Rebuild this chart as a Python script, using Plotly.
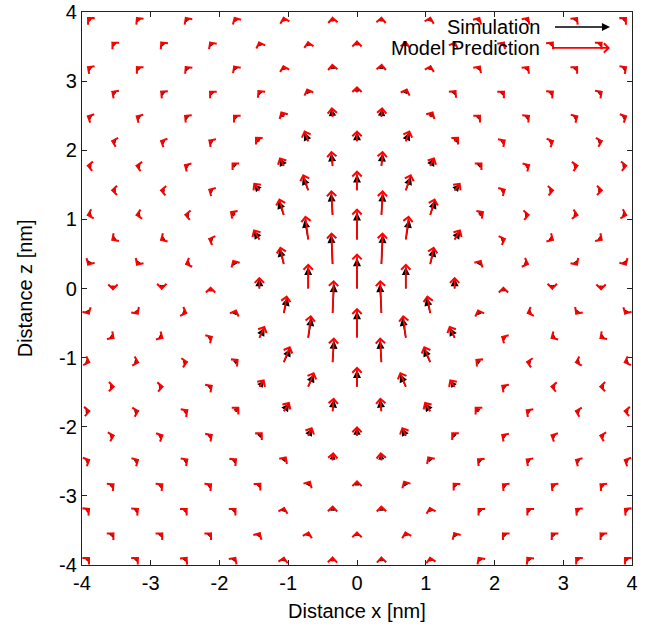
import math
import plotly.graph_objects as go

# lattice (nm)
X_ODD = [-3.905, -3.195, -2.485, -1.775, -1.065, -0.355, 0.355, 1.065, 1.775, 2.485, 3.195, 3.905]
X_EVEN = [-3.55, -2.84, -2.13, -1.42, -0.71, 0.0, 0.71, 1.42, 2.13, 2.84, 3.55]
Z_ROWS = [3.905, 3.55, 3.195, 2.84, 2.485, 2.13, 1.775, 1.42, 1.065, 0.71, 0.355, 0.0,
          -0.355, -0.71, -1.065, -1.42, -1.775, -2.13, -2.485, -2.84, -3.195, -3.55, -3.905]

# Model prediction: direction (deg, 90 = +z) and length (nm) per row, top to bottom
MODEL_ANGLE = [
    [135, 130, 125, 120, 105, 95, 85, 75, 60, 55, 50, 45],
    [135, 130, 125, 110, 100, 90, 80, 70, 55, 50, 45],
    [145, 135, 130, 125, 105, 95, 85, 75, 55, 50, 45, 35],
    [145, 140, 135, 130, 110, 90, 70, 50, 45, 40, 35],
    [155, 150, 140, 135, 120, 95, 85, 60, 45, 40, 30, 25],
    [165, 155, 145, 135, 110, 90, 70, 45, 35, 25, 15],
    [175, 170, 150, 135, 117, 95, 85, 63, 45, 30, 10, 5],
    [180, 175, 150, 128, 108, 90, 72, 52, 30, 5, 0],
    [195, 190, 175, 145, 106, 93, 87, 74, 35, 5, 350, 345],
    [215, 210, 160, 121, 97, 90, 83, 59, 20, 330, 325],
    [240, 235, 200, 120, 102, 92, 88, 78, 60, 340, 305, 300],
    [270, 270, 90, 90, 90, 90, 90, 90, 90, 270, 270],
    [300, 305, 340, 70, 80, 88, 92, 100, 110, 200, 235, 240],
    [325, 330, 30, 65, 83, 90, 97, 115, 150, 210, 215],
    [340, 345, 10, 40, 68, 87, 93, 112, 140, 170, 195, 200],
    [0, 5, 35, 55, 68, 90, 112, 125, 145, 175, 180],
    [5, 15, 35, 45, 58, 85, 95, 122, 135, 145, 165, 175],
    [15, 25, 35, 45, 65, 90, 115, 135, 145, 155, 165],
    [25, 30, 35, 40, 55, 85, 95, 125, 140, 145, 150, 155],
    [40, 40, 40, 45, 60, 90, 120, 135, 140, 140, 140],
    [40, 40, 45, 45, 75, 88, 92, 105, 135, 135, 140, 140],
    [45, 45, 45, 60, 75, 90, 105, 120, 135, 135, 135],
    [45, 45, 50, 55, 80, 88, 92, 100, 125, 130, 135, 135],
]
MODEL_LEN = [
    [0.03, 0.03, 0.03, 0.03, 0.03, 0.03, 0.03, 0.03, 0.03, 0.03, 0.03, 0.03],
    [0.03, 0.03, 0.03, 0.03, 0.03, 0.04, 0.03, 0.03, 0.03, 0.03, 0.03],
    [0.03, 0.03, 0.03, 0.04, 0.04, 0.06, 0.06, 0.04, 0.04, 0.03, 0.03, 0.03],
    [0.03, 0.03, 0.03, 0.04, 0.06, 0.09, 0.06, 0.04, 0.03, 0.03, 0.03],
    [0.03, 0.03, 0.04, 0.04, 0.09, 0.14, 0.14, 0.09, 0.04, 0.04, 0.03, 0.03],
    [0.03, 0.03, 0.04, 0.09, 0.17, 0.16, 0.17, 0.09, 0.04, 0.03, 0.03],
    [0.03, 0.03, 0.04, 0.07, 0.14, 0.22, 0.22, 0.14, 0.07, 0.04, 0.03, 0.03],
    [0.03, 0.03, 0.04, 0.14, 0.25, 0.29, 0.25, 0.14, 0.04, 0.03, 0.03],
    [0.03, 0.03, 0.03, 0.09, 0.25, 0.36, 0.36, 0.25, 0.09, 0.03, 0.03, 0.03],
    [0.03, 0.03, 0.04, 0.17, 0.35, 0.45, 0.35, 0.17, 0.04, 0.03, 0.03],
    [0.03, 0.03, 0.02, 0.07, 0.26, 0.46, 0.46, 0.26, 0.07, 0.02, 0.03, 0.03],
    [0.03, 0.02, 0.03, 0.17, 0.36, 0.51, 0.36, 0.17, 0.03, 0.02, 0.03],
    [0.03, 0.03, 0.02, 0.06, 0.26, 0.48, 0.48, 0.26, 0.06, 0.02, 0.03, 0.03],
    [0.03, 0.03, 0.04, 0.19, 0.33, 0.43, 0.33, 0.19, 0.04, 0.03, 0.03],
    [0.03, 0.03, 0.03, 0.07, 0.25, 0.36, 0.36, 0.25, 0.07, 0.03, 0.03, 0.03],
    [0.03, 0.03, 0.04, 0.13, 0.23, 0.29, 0.23, 0.13, 0.04, 0.03, 0.03],
    [0.03, 0.03, 0.04, 0.09, 0.16, 0.20, 0.20, 0.16, 0.09, 0.04, 0.03, 0.03],
    [0.03, 0.03, 0.04, 0.07, 0.14, 0.14, 0.14, 0.07, 0.04, 0.03, 0.03],
    [0.03, 0.03, 0.04, 0.04, 0.07, 0.12, 0.12, 0.07, 0.04, 0.04, 0.03, 0.03],
    [0.03, 0.03, 0.03, 0.04, 0.07, 0.07, 0.07, 0.04, 0.03, 0.03, 0.03],
    [0.03, 0.03, 0.03, 0.03, 0.04, 0.06, 0.06, 0.04, 0.03, 0.03, 0.03, 0.03],
    [0.03, 0.03, 0.03, 0.03, 0.04, 0.04, 0.04, 0.03, 0.03, 0.03, 0.03],
    [0.03, 0.03, 0.03, 0.03, 0.03, 0.03, 0.03, 0.03, 0.03, 0.03, 0.03, 0.03],
]

# Simulation
SIM_ANGLE = [
    [135, 130, 125, 120, 105, 95, 85, 75, 60, 55, 50, 45],
    [135, 130, 125, 110, 100, 90, 80, 70, 55, 50, 45],
    [145, 135, 130, 125, 105, 95, 85, 75, 55, 50, 45, 35],
    [145, 140, 135, 132, 112, 90, 68, 50, 45, 40, 35],
    [155, 150, 140, 137, 124, 97, 83, 58, 45, 40, 30, 25],
    [165, 155, 147, 138, 114, 90, 67, 43, 35, 25, 15],
    [175, 170, 152, 138, 121, 96, 84, 60, 45, 30, 10, 5],
    [180, 175, 152, 132, 112, 90, 69, 50, 30, 5, 0],
    [195, 190, 175, 148, 111, 94, 86, 70, 35, 5, 350, 345],
    [215, 210, 160, 125, 100, 90, 80, 56, 20, 330, 325],
    [240, 235, 200, 122, 106, 93, 87, 75, 60, 340, 305, 300],
    [270, 270, 90, 90, 90, 90, 90, 90, 90, 270, 270],
    [300, 305, 340, 68, 76, 87, 93, 104, 112, 200, 235, 240],
    [325, 330, 30, 62, 80, 90, 100, 118, 150, 210, 215],
    [340, 345, 10, 38, 64, 86, 94, 116, 142, 170, 195, 200],
    [0, 5, 35, 52, 65, 90, 115, 128, 145, 175, 180],
    [5, 15, 35, 43, 55, 84, 96, 125, 137, 145, 165, 175],
    [15, 25, 35, 45, 62, 90, 118, 135, 145, 155, 165],
    [25, 30, 35, 40, 53, 85, 95, 127, 140, 145, 150, 155],
    [40, 40, 40, 45, 60, 90, 120, 135, 140, 140, 140],
    [40, 40, 45, 45, 75, 88, 92, 105, 135, 135, 140, 140],
    [45, 45, 45, 60, 75, 90, 105, 120, 135, 135, 135],
    [45, 45, 50, 55, 80, 88, 92, 100, 125, 130, 135, 135],
]
SIM_LEN = [
    [0.03, 0.03, 0.03, 0.03, 0.03, 0.03, 0.03, 0.03, 0.03, 0.03, 0.03, 0.03],
    [0.03, 0.03, 0.03, 0.03, 0.03, 0.04, 0.03, 0.03, 0.03, 0.03, 0.03],
    [0.03, 0.03, 0.03, 0.04, 0.04, 0.05, 0.05, 0.04, 0.04, 0.03, 0.03, 0.03],
    [0.03, 0.03, 0.03, 0.04, 0.05, 0.08, 0.05, 0.04, 0.03, 0.03, 0.03],
    [0.03, 0.03, 0.04, 0.04, 0.08, 0.12, 0.12, 0.08, 0.04, 0.04, 0.03, 0.03],
    [0.03, 0.03, 0.04, 0.08, 0.14, 0.13, 0.14, 0.08, 0.04, 0.03, 0.03],
    [0.03, 0.03, 0.04, 0.06, 0.13, 0.18, 0.18, 0.13, 0.06, 0.04, 0.03, 0.03],
    [0.03, 0.03, 0.04, 0.12, 0.21, 0.23, 0.21, 0.12, 0.04, 0.03, 0.03],
    [0.03, 0.03, 0.03, 0.08, 0.22, 0.31, 0.31, 0.22, 0.08, 0.03, 0.03, 0.03],
    [0.03, 0.03, 0.04, 0.15, 0.29, 0.39, 0.29, 0.15, 0.04, 0.03, 0.03],
    [0.03, 0.03, 0.02, 0.06, 0.23, 0.42, 0.42, 0.23, 0.06, 0.02, 0.03, 0.03],
    [0.03, 0.02, 0.03, 0.15, 0.31, 0.44, 0.31, 0.15, 0.03, 0.02, 0.03],
    [0.03, 0.03, 0.02, 0.05, 0.23, 0.42, 0.42, 0.23, 0.05, 0.02, 0.03, 0.03],
    [0.03, 0.03, 0.04, 0.16, 0.29, 0.38, 0.29, 0.16, 0.04, 0.03, 0.03],
    [0.03, 0.03, 0.03, 0.06, 0.22, 0.31, 0.31, 0.22, 0.06, 0.03, 0.03, 0.03],
    [0.03, 0.03, 0.04, 0.11, 0.20, 0.24, 0.20, 0.11, 0.04, 0.03, 0.03],
    [0.03, 0.03, 0.04, 0.08, 0.14, 0.17, 0.17, 0.14, 0.08, 0.04, 0.03, 0.03],
    [0.03, 0.03, 0.04, 0.06, 0.12, 0.12, 0.12, 0.06, 0.04, 0.03, 0.03],
    [0.03, 0.03, 0.04, 0.04, 0.06, 0.10, 0.10, 0.06, 0.04, 0.04, 0.03, 0.03],
    [0.03, 0.03, 0.03, 0.04, 0.06, 0.06, 0.06, 0.04, 0.03, 0.03, 0.03],
    [0.03, 0.03, 0.03, 0.03, 0.04, 0.05, 0.05, 0.04, 0.03, 0.03, 0.03, 0.03],
    [0.03, 0.03, 0.03, 0.03, 0.04, 0.04, 0.04, 0.03, 0.03, 0.03, 0.03],
    [0.03, 0.03, 0.03, 0.03, 0.03, 0.03, 0.03, 0.03, 0.03, 0.03, 0.03, 0.03],
]

TICK_VALS = [-4, -3, -2, -1, 0, 1, 2, 3, 4]
TICK_TEXT = ["-4", "-3", "-2", "-1", "0", "1", "2", "3", "4"]

FONT = "Liberation Sans, Arial, sans-serif"
FS = 20
NM_TO_PX = 68.9  # approximate plot scale, only used to shrink heads of short arrows


def make_arrows(angles, lens, color, head, width, size, min_len, shrink_heads):
    """Arrow annotations; very short arrows get a minimal drawn length so that
    Plotly still renders their heads."""
    out = []
    for r, z in enumerate(Z_ROWS):
        xs = X_ODD if len(angles[r]) == len(X_ODD) else X_EVEN
        for x, a, L in zip(xs, angles[r], lens[r]):
            ca, sa = math.cos(math.radians(a)), math.sin(math.radians(a))
            tip_x, tip_z = x + L * ca, z + L * sa
            Ld = max(L, min_len)
            s = size
            if shrink_heads:
                s = size * min(1.0, max(0.6, L * NM_TO_PX / 9.0))
            out.append(dict(
                x=tip_x, y=tip_z, ax=tip_x - Ld * ca, ay=tip_z - Ld * sa,
                xref="x", yref="y", axref="x", ayref="y",
                text="", showarrow=True, arrowhead=head, arrowsize=s,
                arrowwidth=width, arrowcolor=color, standoff=0, startstandoff=0,
                font=dict(size=1), borderpad=0, borderwidth=0,
            ))
    return out


tails_x, tails_z = [], []
for r, z in enumerate(Z_ROWS):
    xs = X_ODD if len(MODEL_ANGLE[r]) == len(X_ODD) else X_EVEN
    for x in xs:
        tails_x.append(x)
        tails_z.append(z)

fig = go.Figure()
fig.add_trace(go.Scatter(x=tails_x, y=tails_z, mode="markers",
                         marker=dict(size=1, color="rgba(0,0,0,0)"),
                         showlegend=False, hoverinfo="skip"))

annotations = []
annotations += make_arrows(SIM_ANGLE, SIM_LEN, "black", 2, 1.4, 1.15, 0.045, True)
annotations += make_arrows(MODEL_ANGLE, MODEL_LEN, "#ff0000", 4, 1.8, 1.0, 0.07, False)

# legend
annotations += [
    dict(xref="paper", yref="paper", x=0.836, y=0.973, text="Simulation",
         showarrow=False, xanchor="right", yanchor="middle",
         font=dict(family=FONT, size=FS, color="black")),
    dict(xref="paper", yref="paper", x=0.836, y=0.935, text="Model Prediction",
         showarrow=False, xanchor="right", yanchor="middle",
         font=dict(family=FONT, size=FS, color="black")),
    dict(xref="paper", yref="paper", x=0.96, y=0.973, ax=-55, ay=0, text="",
         showarrow=True, arrowhead=2, arrowsize=1.15, arrowwidth=1.4, arrowcolor="black",
         font=dict(size=1), borderpad=0, borderwidth=0),
    dict(xref="paper", yref="paper", x=0.96, y=0.935, ax=-58, ay=0, text="",
         showarrow=True, arrowhead=4, arrowsize=1.0, arrowwidth=1.8, arrowcolor="#ff0000",
         font=dict(size=1), borderpad=0, borderwidth=0),
    dict(xref="paper", yref="paper", x=0.5, y=-0.083, text="Distance x [nm]",
         showarrow=False, xanchor="center", yanchor="middle",
         font=dict(family=FONT, size=FS, color="black")),
    dict(xref="paper", yref="paper", x=-0.104, y=0.5, text="Distance z [nm]",
         showarrow=False, xanchor="center", yanchor="middle", textangle=-90,
         font=dict(family=FONT, size=FS, color="black")),
]

axis_common = dict(
    range=[-4, 4], showgrid=False, zeroline=False, showline=True, linecolor="#222",
    linewidth=1.2, mirror="ticks", ticks="inside", ticklen=5, tickcolor="#222",
    tickfont=dict(family=FONT, size=FS, color="black"), automargin=False,
    tickvals=TICK_VALS, ticktext=TICK_TEXT,
)

fig.update_layout(
    width=665, height=631,
    margin=dict(l=82, r=33, t=12, b=66),
    paper_bgcolor="white", plot_bgcolor="white",
    xaxis=dict(**axis_common),
    yaxis=dict(**axis_common),
    showlegend=False,
    annotations=annotations,
)

fig.write_html("out.html")
